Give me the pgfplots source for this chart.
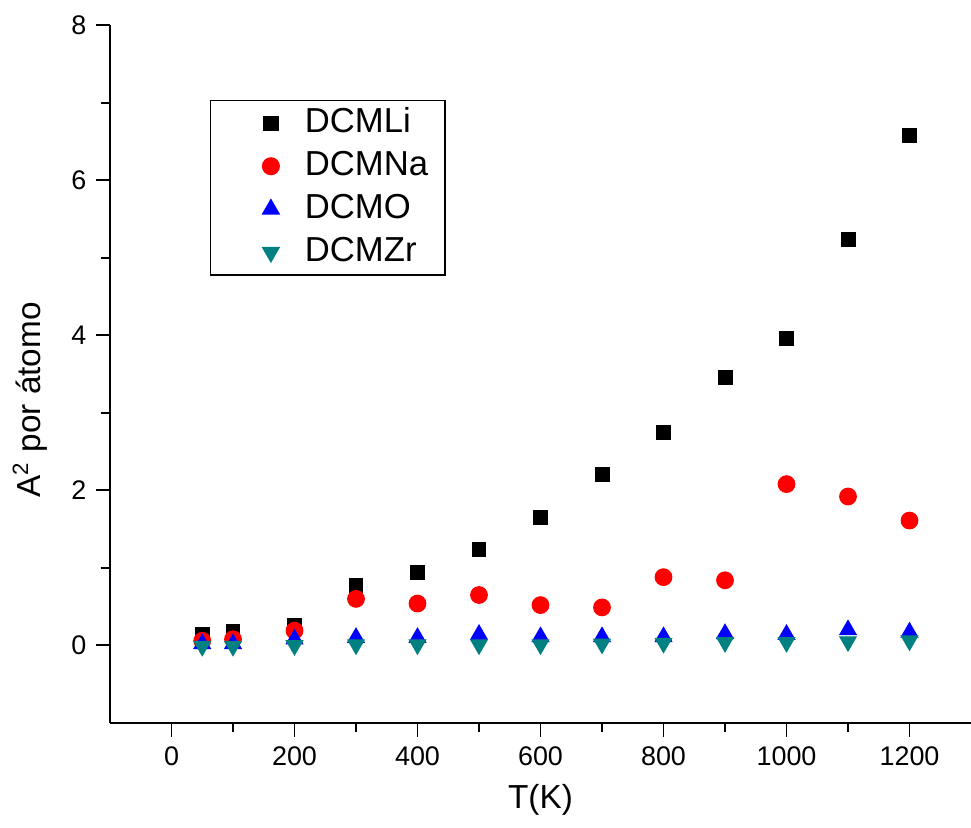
\documentclass[border=0pt]{standalone}
\usepackage{pgfplots}
\pgfplotsset{compat=1.18}
\usepackage{fontspec}
\setmainfont{Liberation Sans}
\definecolor{zr}{RGB}{0,128,128}
\pgfplotsset{mylegend/.style={legend image code/.code={\path (0pt,0pt) (27.5pt,0pt); \draw[##1] plot coordinates {(17.5pt,0pt)};}}}
\begin{document}
\begin{tikzpicture}
\useasboundingbox (0,0) rectangle (350pt,298.45pt);
\begin{axis}[
  at={(39.65pt,37.85pt)}, anchor=south west,
  scale only axis, width=310.35pt, height=251.6pt,
  xmin=-100, xmax=1300, ymin=-1, ymax=8,
  axis lines*=left,
  axis line style={line width=0.7pt},
  tick align=outside,
  major tick length=5pt, minor tick length=3.3pt,
  every tick/.style={black, line width=0.7pt},
  xtick={0,200,...,1200}, minor x tick num=1,
  ytick={0,2,4,6,8}, minor y tick num=1,
  /pgf/number format/assume math mode=true,
  /pgf/number format/1000 sep={},
  ticklabel style={font=\fontsize{9.7pt}{11pt}\selectfont},
  label style={font=\fontsize{12pt}{14pt}\selectfont},
  xlabel={T(K)},
  ylabel={A\textsuperscript{2} por átomo},
  xlabel style={at={(axis description cs:0.5,-0.11)}, anchor=center},
  ylabel style={at={(axis description cs:-0.093,0.463)}, anchor=center},
  legend style={at={(axis description cs:0.116,0.893)}, anchor=north west,
    draw=black, line width=0.5pt, font=\fontsize{12.5pt}{14pt}\selectfont,
    row sep=2pt, inner xsep=4pt, inner ysep=1.5pt,
    nodes={inner ysep=0.5pt, text height=9.5pt, text depth=3pt}},
  legend cell align=left,
]
\addplot[only marks, mylegend, mark=square*, mark size=2.5pt, black] coordinates {
(50,0.14) (100,0.18) (200,0.26) (300,0.77) (400,0.94) (500,1.24) (600,1.65)
(700,2.21) (800,2.74) (900,3.45) (1000,3.96) (1100,5.23) (1200,6.58)};
\addlegendentry{DCMLi}
\addplot[only marks, mylegend, mark=*, mark size=3pt, red] coordinates {
(50,0.06) (100,0.08) (200,0.19) (300,0.60) (400,0.54) (500,0.65) (600,0.52)
(700,0.49) (800,0.88) (900,0.84) (1000,2.08) (1100,1.92) (1200,1.61)};
\addlegendentry{DCMNa}
\addplot[only marks, mylegend, mark=triangle*, mark size=3.4pt, blue] coordinates {
(50,0.02) (100,0.02) (200,0.08) (300,0.10) (400,0.10) (500,0.14) (600,0.11)
(700,0.11) (800,0.11) (900,0.15) (1000,0.14) (1100,0.20) (1200,0.17)};
\addlegendentry{DCMO}
\addplot[only marks, mylegend, mark=triangle*, mark options={rotate=180}, mark size=3.4pt, zr] coordinates {
(50,-0.01) (100,-0.01) (200,0.00) (300,0.01) (400,0.01) (500,0.01) (600,0.01)
(700,0.02) (800,0.03) (900,0.04) (1000,0.04) (1100,0.05) (1200,0.06)};
\addlegendentry{DCMZr}
\end{axis}
\end{tikzpicture}
\end{document}
